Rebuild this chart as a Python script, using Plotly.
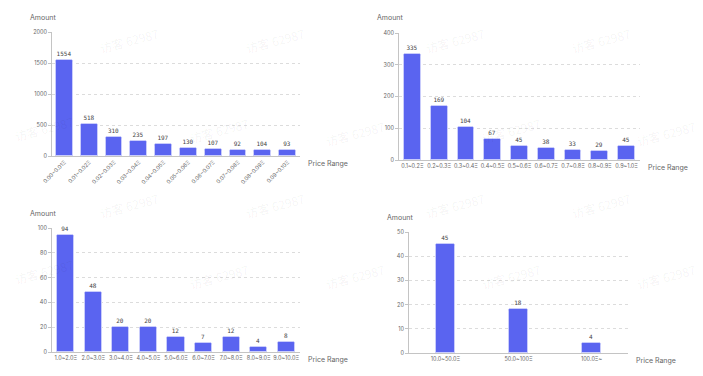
import plotly.graph_objects as go

cats1 = ["0.00~0.01Ξ", "0.01~0.02Ξ", "0.02~0.03Ξ", "0.03~0.04Ξ", "0.04~0.05Ξ",
         "0.05~0.06Ξ", "0.06~0.07Ξ", "0.07~0.08Ξ", "0.08~0.09Ξ", "0.09~0.10Ξ"]
vals1 = [1554, 518, 310, 235, 197, 130, 107, 92, 104, 93]

cats2 = ["0.1~0.2Ξ", "0.2~0.3Ξ", "0.3~0.4Ξ", "0.4~0.5Ξ", "0.5~0.6Ξ",
         "0.6~0.7Ξ", "0.7~0.8Ξ", "0.8~0.9Ξ", "0.9~1.0Ξ"]
vals2 = [335, 169, 104, 67, 45, 38, 33, 29, 45]

cats3 = ["1.0~2.0Ξ", "2.0~3.0Ξ", "3.0~4.0Ξ", "4.0~5.0Ξ", "5.0~6.0Ξ",
         "6.0~7.0Ξ", "7.0~8.0Ξ", "8.0~9.0Ξ", "9.0~10.0Ξ"]
vals3 = [94, 48, 20, 20, 12, 7, 12, 4, 8]

cats4 = ["10.0~50.0Ξ", "50.0~100Ξ", "100.0Ξ~"]
vals4 = [45, 18, 4]

W, H = 703, 376
BAR = "#5a64f0"
AX = "#c4c4c4"
TXT = "#666666"

def px(x):
    return x / W

def py(y):
    return 1 - y / H

panels = [
    # cats, vals, x0, x1, ytop, ybot, ymax, dtick, barw, angle
    (cats1, vals1, 52, 300, 32, 156, 2000, 500, 0.68, -45),
    (cats2, vals2, 399, 640, 33, 160, 400, 100, 0.63, 0),
    (cats3, vals3, 52, 300, 228, 352, 100, 20, 0.62, 0),
    (cats4, vals4, 409, 628, 232, 353, 50, 10, 0.25, 0),
]

fig = go.Figure()
annotations = []
for i, (cats, vals, x0, x1, yt, yb, ymax, dt, bw, ang) in enumerate(panels):
    n = i + 1
    xa = "x" if n == 1 else f"x{n}"
    ya = "y" if n == 1 else f"y{n}"
    fig.add_trace(go.Bar(
        x=cats, y=vals, xaxis=xa, yaxis=ya,
        width=bw,
        marker=dict(color=BAR, line=dict(color="#c9ccfb", width=1), cornerradius=2),
        text=[str(v) for v in vals], textposition="outside",
        textfont=dict(family="DejaVu Sans Mono", size=6, color="#444444"),
        cliponaxis=False, showlegend=False, hoverinfo="skip",
    ))
    xkey = "xaxis" if n == 1 else f"xaxis{n}"
    ykey = "yaxis" if n == 1 else f"yaxis{n}"
    fig.layout[xkey] = dict(
        domain=[px(x0), px(x1)], anchor=ya, type="category",
        showline=True, linecolor=AX, linewidth=1,
        showgrid=False, ticks="", tickangle=ang, automargin=False,
        tickfont=dict(family="Inter", size=5.5, color=TXT),
        fixedrange=True,
    )
    fig.layout[ykey] = dict(
        domain=[py(yb), py(yt)], anchor=xa, automargin=False,
        range=[0, ymax], dtick=dt, tick0=0,
        showline=True, linecolor=AX, linewidth=1,
        showgrid=True, gridcolor="#dcdcdc", griddash="dot", gridwidth=1,
        zeroline=False, ticks="outside", ticklen=3, tickcolor=AX,
        tickfont=dict(family="Inter", size=5.5, color=TXT),
        fixedrange=True,
    )
    annotations.append(dict(
        text="Amount", xref="paper", yref="paper",
        x=px(x0 - 24), y=py(yt - 15), xanchor="left", yanchor="middle",
        showarrow=False, font=dict(family="Inter", size=7, color=TXT),
    ))
    annotations.append(dict(
        text="Price Range", xref="paper", yref="paper",
        x=px(x1 + 6), y=py(yb + 7), xanchor="left", yanchor="middle",
        showarrow=False, font=dict(family="Inter", size=7, color=TXT),
    ))

# faint watermarks
wm = [(95, 22), (275, 22), (185, 112), (455, 22), (635, 22), (545, 112),
      (95, 205), (275, 205), (185, 295), (455, 205), (635, 205), (545, 295),
      (10, 110), (10, 290), (355, 115), (355, 295), (700, 115), (700, 295)]
for (x, y) in wm:
    annotations.append(dict(
        text="访客 62987", xref="paper", yref="paper", x=px(x), y=py(y),
        showarrow=False, textangle=-15,
        font=dict(family="Noto Sans CJK SC", size=12, color="rgba(0,0,0,0.05)"),
    ))

fig.update_layout(
    width=W, height=H, margin=dict(l=0, r=0, t=0, b=0),
    paper_bgcolor="white", plot_bgcolor="white",
    annotations=annotations, bargap=0,
)
fig.write_html("out.html", config={"displayModeBar": False},
               post_script="document.body.style.margin='0';document.body.style.overflow='hidden';")
